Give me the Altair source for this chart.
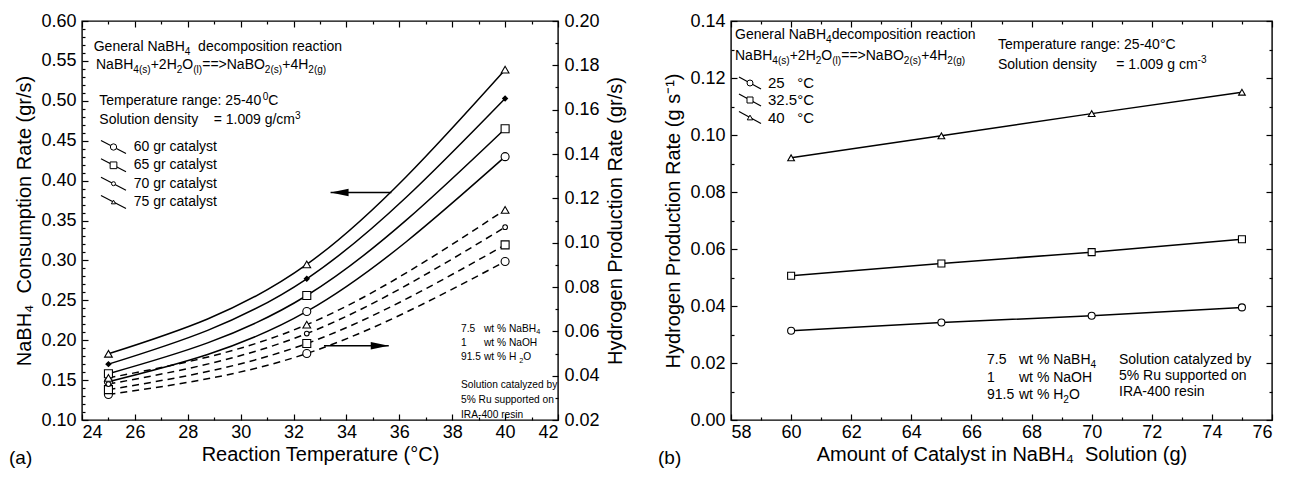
import altair as alt
import pandas as pd

# ---------------- data ----------------
# (a) rates versus reaction temperature
temperature_c = [25, 32.5, 40]
catalyst_labels = ["60 gr catalyst", "65 gr catalyst", "70 gr catalyst", "75 gr catalyst"]
nabh4_rate_60 = [0.148, 0.236, 0.430]
nabh4_rate_65 = [0.158, 0.256, 0.465]
nabh4_rate_70 = [0.170, 0.277, 0.503]
nabh4_rate_75 = [0.183, 0.295, 0.539]
h2_rate_60 = [0.0315, 0.0500, 0.0915]
h2_rate_65 = [0.0337, 0.0545, 0.0990]
h2_rate_70 = [0.0362, 0.0590, 0.1070]
h2_rate_75 = [0.0390, 0.0630, 0.1148]

# (b) hydrogen rate versus amount of catalyst
catalyst_g = [60, 65, 70, 75]
temp_labels = ["25\u00a0\u00a0\u00a0\u00b0C", "32.5\u00b0C", "40\u00a0\u00a0\u00a0\u00b0C"]
h2_25c = [0.0313, 0.0342, 0.0366, 0.0395]
h2_32c = [0.0506, 0.0549, 0.0589, 0.0634]
h2_40c = [0.0920, 0.0997, 0.1075, 0.1150]

# tick labels
left_x_ticks = [24, 26, 28, 30, 32, 34, 36, 38, 40, 42]
left_x_minor = [25, 27, 29, 31, 33, 35, 37, 39, 41]
left_y_ticks = [0.10, 0.15, 0.20, 0.25, 0.30, 0.35, 0.40, 0.45, 0.50, 0.55, 0.60]
left_y_minor = [round(0.10 + 0.01 * i, 2) for i in range(51) if i % 5 != 0]
left_y2_ticks = [0.02, 0.04, 0.06, 0.08, 0.10, 0.12, 0.14, 0.16, 0.18, 0.20]
left_y2_minor = [0.03, 0.05, 0.07, 0.09, 0.11, 0.13, 0.15, 0.17, 0.19]
right_x_ticks = [58, 60, 62, 64, 66, 68, 70, 72, 74, 76]
right_x_minor = [59, 61, 63, 65, 67, 69, 71, 73, 75]
right_y_ticks = [0.00, 0.02, 0.04, 0.06, 0.08, 0.10, 0.12, 0.14]
right_y_minor = [0.01, 0.03, 0.05, 0.07, 0.09, 0.11, 0.13]

# ---------------- helpers ----------------
FONT = "Liberation Sans"
NB = "\u00a0"

AW = {' ': 278, NB: 278, '!': 278, '%': 889, '(': 333, ')': 333, '+': 584, ',': 278,
      '-': 333, '.': 278, '/': 278, ':': 278, '=': 584, '>': 584, '\u00b0': 400,
      'A': 667, 'B': 667, 'C': 722, 'D': 722, 'E': 667, 'F': 611, 'G': 778, 'H': 722,
      'I': 278, 'J': 500, 'K': 667, 'L': 556, 'M': 833, 'N': 722, 'O': 778, 'P': 667,
      'Q': 778, 'R': 722, 'S': 667, 'T': 611, 'U': 722, 'V': 667, 'W': 944, 'X': 667,
      'Y': 667, 'Z': 611, 'a': 556, 'b': 556, 'c': 500, 'd': 556, 'e': 556, 'f': 278,
      'g': 556, 'h': 556, 'i': 222, 'j': 222, 'k': 500, 'l': 222, 'm': 833, 'n': 556,
      'o': 556, 'p': 556, 'q': 556, 'r': 333, 's': 500, 't': 278, 'u': 556, 'v': 500,
      'w': 722, 'x': 500, 'y': 500, 'z': 500}


def tw(s, fs):
    return sum(AW.get(c, 556) for c in s) / 1000.0 * fs


ONE = pd.DataFrame({"k": [0]})


def rich(x, yc, parts, fs=14, color="black"):
    base = yc + 0.36 * fs
    cx = x
    out = []
    for txt, kind in parts:
        if kind == "n":
            size, dy = fs, 0.0
        elif kind == "b":
            size, dy = fs * 0.72, fs * 0.25
        else:
            size, dy = fs * 0.72, -fs * 0.40
        lead = len(txt) - len(txt.lstrip(" "))
        cx += tw(" " * lead, size)
        body = txt.lstrip(" ").replace(" ", NB)
        out.append(
            alt.Chart(ONE).mark_text(text=body, align="left", baseline="alphabetic",
                                     font=FONT, fontSize=size, color=color)
            .encode(x=alt.value(cx), y=alt.value(base + dy))
        )
        cx += tw(body, size)
    return out


def tick_axis(orient, vals, size):
    return alt.Axis(orient=orient, values=vals, tickSize=size, offset=-size, ticks=True,
                    labels=False, domain=False, title=None, grid=False, minExtent=0,
                    tickColor="black", tickWidth=1.2)


def tick_layer(xdom, xvals, xorient, ydom, yvals, yorient, size):
    d = pd.DataFrame({"tx": [xdom[0]], "ty": [ydom[0]]})
    return alt.Chart(d).mark_point(opacity=0).encode(
        x=alt.X("tx:Q", scale=alt.Scale(domain=xdom, nice=False, zero=False),
                axis=tick_axis(xorient, xvals, size)),
        y=alt.Y("ty:Q", scale=alt.Scale(domain=ydom, nice=False, zero=False),
                axis=tick_axis(yorient, yvals, size)),
    )


def legend_entry(x0, x1, xm, xt, yc, half, shape, size, fill, label, fs):
    rule = alt.Chart(ONE).mark_rule(color="black", strokeWidth=1.2).encode(
        x=alt.value(x0), x2=alt.value(x1), y=alt.value(yc - half), y2=alt.value(yc + half))
    pt = alt.Chart(ONE).mark_point(shape=shape, size=size, filled=True, fill=fill,
                                   stroke="black", strokeWidth=1, opacity=1).encode(
        x=alt.value(xm), y=alt.value(yc))
    txt = alt.Chart(ONE).mark_text(text=label, align="left", baseline="middle",
                                   font=FONT, fontSize=fs, color="black").encode(
        x=alt.value(xt), y=alt.value(yc))
    return [rule, pt, txt]


FORMULA = [("NaBH", "n"), ("4(s)", "b"), ("+2H", "n"), ("2", "b"), ("O", "n"), ("(l)", "b"),
           ("==>NaBO", "n"), ("2(s)", "b"), ("+4H", "n"), ("2(g)", "b")]

# ---------------- panel (a) ----------------
W_L, H = 476, 399
XD_L = [24, 42]
YD_L = [0.10, 0.60]
YD_R = [0.02, 0.20]
XS_L = alt.Scale(domain=XD_L, nice=False, zero=False)
LS = alt.Scale(domain=YD_L, nice=False, zero=False)
RS = alt.Scale(domain=YD_R, nice=False, zero=False)

cons_series = [nabh4_rate_60, nabh4_rate_65, nabh4_rate_70, nabh4_rate_75]
h2_series = [h2_rate_60, h2_rate_65, h2_rate_70, h2_rate_75]
rows = []
for lab, cs, hs in zip(catalyst_labels, cons_series, h2_series):
    for t, c, h in zip(temperature_c, cs, hs):
        rows.append({"T": t, "level": lab, "cons": c, "h2": h})
df_a = pd.DataFrame(rows)

x_main_a = alt.X("T:Q", scale=XS_L, axis=alt.Axis(
    orient="bottom", values=left_x_ticks, format="d", ticks=False, tickSize=0, domain=False,
    labelPadding=3, title="Reaction Temperature (\u00b0C)", titlePadding=3))
x_none_a = alt.X("T:Q", scale=XS_L, axis=None)

solid = alt.Chart(df_a).mark_line(color="black", strokeWidth=1.5, interpolate="monotone").encode(
    x=x_main_a,
    y=alt.Y("cons:Q", scale=LS, axis=alt.Axis(
        orient="left", values=left_y_ticks, format=".2f", ticks=False, tickSize=0, domain=False,
        labelPadding=6, title="NaBH\u2084\u00a0 Consumption Rate (gr/s)", titlePadding=6)),
    detail="level:N")

dashed = alt.Chart(df_a).mark_line(color="black", strokeWidth=1.5, strokeDash=[7, 5],
                                   interpolate="monotone").encode(
    x=x_none_a,
    y=alt.Y("h2:Q", scale=RS, axis=alt.Axis(
        orient="right", values=left_y2_ticks, format=".2f", ticks=False, tickSize=0, domain=False,
        labelPadding=6, title="Hydrogen Production Rate (gr/s)", titlePadding=6,
        titleAngle=270, titleBaseline="top")),
    detail="level:N")

solid_style = [("circle", 64, "white"), ("square", 64, "white"), ("diamond", 24, "black"),
               ("triangle-up", 60, "white")]
dashed_style = [("circle", 64, "white"), ("square", 64, "white"), ("circle", 22, "white"),
                ("triangle-up", 60, "white")]

layers_a = [solid, dashed]
for lab, (shp, sz, fl) in zip(catalyst_labels, solid_style):
    layers_a.append(alt.Chart(df_a).transform_filter(alt.datum.level == lab).mark_point(
        shape=shp, size=sz, filled=True, fill=fl, stroke="black", strokeWidth=1.1, opacity=1).encode(
        x=x_none_a, y=alt.Y("cons:Q", scale=LS, axis=None)))
for lab, (shp, sz, fl) in zip(catalyst_labels, dashed_style):
    layers_a.append(alt.Chart(df_a).transform_filter(alt.datum.level == lab).mark_point(
        shape=shp, size=sz, filled=True, fill=fl, stroke="black", strokeWidth=1.1, opacity=1).encode(
        x=x_none_a, y=alt.Y("h2:Q", scale=RS, axis=None)))

# arrows
arr_l = pd.DataFrame({"x1": [35.7], "x2": [33.4], "y": [0.385]})
arr_r = pd.DataFrame({"x1": [33.15], "x2": [35.6], "y": [0.0535]})
layers_a.append(alt.Chart(arr_l).mark_rule(color="black", strokeWidth=1.4).encode(
    x=alt.X("x1:Q", scale=XS_L, axis=None), x2="x2:Q", y=alt.Y("y:Q", scale=LS, axis=None)))
layers_a.append(alt.Chart(arr_l).mark_point(shape="M0,0L2,-0.42L2,0.42Z", size=324, filled=True,
                                            color="black", opacity=1).encode(
    x=alt.X("x2:Q", scale=XS_L, axis=None), y=alt.Y("y:Q", scale=LS, axis=None)))
layers_a.append(alt.Chart(arr_r).mark_rule(color="black", strokeWidth=1.4).encode(
    x=alt.X("x1:Q", scale=XS_L, axis=None), x2="x2:Q", y=alt.Y("y:Q", scale=RS, axis=None)))
layers_a.append(alt.Chart(arr_r).mark_point(shape="M0,0L-2,-0.42L-2,0.42Z", size=324, filled=True,
                                            color="black", opacity=1).encode(
    x=alt.X("x2:Q", scale=XS_L, axis=None), y=alt.Y("y:Q", scale=RS, axis=None)))

# inward ticks
layers_a += [
    tick_layer(XD_L, left_x_ticks, "bottom", YD_L, left_y_ticks, "left", 6),
    tick_layer(XD_L, left_x_minor, "bottom", YD_L, left_y_minor, "left", 3),
    tick_layer(XD_L, left_x_ticks, "top", YD_R, left_y2_ticks, "right", 6),
    tick_layer(XD_L, left_x_minor, "top", YD_R, left_y2_minor, "right", 3),
]

# annotations
layers_a += rich(11.7, 25, [("General NaBH", "n"), ("4", "b"), ("  decomposition reaction", "n")])
layers_a += rich(14, 43, FORMULA)
layers_a += rich(17.3, 79.3, [("Temperature range: 25-40", "n"), ("0", "p"), ("C", "n")])
layers_a += rich(17.3, 98.3, [("Solution density    = 1.009 g/cm", "n"), ("3", "p")])
leg_a_style = [("circle", 40, "white"), ("square", 45, "white"), ("circle", 16, "white"),
               ("triangle-up", 18, "white")]
for lab, yc, (shp, sz, fl) in zip(catalyst_labels, [126, 144.3, 162.7, 181], leg_a_style):
    layers_a += legend_entry(19, 44, 31.5, 51.7, yc, 6.5, shp, sz, fl, lab, 14)

bx, sfs = 379, 10.2
for yc, num, parts in [(307, "7.5", [("wt % NaBH", "n"), ("4", "b")]),
                       (321.5, "1", [("wt % NaOH", "n")]),
                       (335.5, "91.5", [("wt % H ", "n"), ("2", "b"), ("O", "n")])]:
    layers_a += rich(bx, yc, [(num, "n")], fs=sfs)
    layers_a += rich(bx + 23, yc, parts, fs=sfs)
for yc, line in [(363, "Solution catalyzed by"), (378, "5% Ru supported on"), (393, "IRA-400 resin")]:
    layers_a += rich(bx, yc, [(line, "n")], fs=sfs)
layers_a += rich(-73, 436, [("(a)", "n")], fs=19)

panel_a = alt.layer(*layers_a).resolve_scale(y="independent").resolve_axis(
    x="independent", y="independent").properties(width=W_L, height=H)

# ---------------- panel (b) ----------------
W_R = 541
XD_R = [58, 76]
YD_B = [0.0, 0.14]
XS_R = alt.Scale(domain=XD_R, nice=False, zero=False)
YS_B = alt.Scale(domain=YD_B, nice=False, zero=False)

rows_b = []
for lab, vals in zip(temp_labels, [h2_25c, h2_32c, h2_40c]):
    for g, v in zip(catalyst_g, vals):
        rows_b.append({"g": g, "temp": lab, "h2": v})
df_b = pd.DataFrame(rows_b)

lines_b = alt.Chart(df_b).mark_line(color="black", strokeWidth=1.5).encode(
    x=alt.X("g:Q", scale=XS_R, axis=alt.Axis(
        orient="bottom", values=right_x_ticks, format="d", ticks=False, tickSize=0, domain=False,
        labelPadding=3, title="Amount of Catalyst in NaBH\u2084\u00a0 Solution (g)", titlePadding=3)),
    y=alt.Y("h2:Q", scale=YS_B, axis=alt.Axis(
        orient="left", values=right_y_ticks, format=".2f", ticks=False, tickSize=0, domain=False,
        labelPadding=6, title="Hydrogen Production Rate (g s\u207b\u00b9)", titlePadding=6)),
    detail="temp:N")

layers_b = [lines_b]
b_style = [("circle", 49, "white"), ("square", 49, "white"), ("triangle-up", 45, "white")]
for lab, (shp, sz, fl) in zip(temp_labels, b_style):
    layers_b.append(alt.Chart(df_b).transform_filter(alt.datum.temp == lab).mark_point(
        shape=shp, size=sz, filled=True, fill=fl, stroke="black", strokeWidth=1.1, opacity=1).encode(
        x=alt.X("g:Q", scale=XS_R, axis=None), y=alt.Y("h2:Q", scale=YS_B, axis=None)))

layers_b += [
    tick_layer(XD_R, right_x_ticks, "bottom", YD_B, right_y_ticks, "left", 6),
    tick_layer(XD_R, right_x_minor, "bottom", YD_B, right_y_minor, "left", 3),
    tick_layer(XD_R, right_x_ticks, "top", YD_B, right_y_ticks, "right", 6),
    tick_layer(XD_R, right_x_minor, "top", YD_B, right_y_minor, "right", 3),
]

layers_b += rich(4, 13, [("General NaBH", "n"), ("4", "b"), ("decomposition reaction", "n")])
layers_b += rich(4, 34, FORMULA)
layers_b += rich(267, 23, [("Temperature range: 25-40\u00b0C", "n")])
layers_b += rich(267, 43, [("Solution density     = 1.009 g cm", "n"), ("-3", "p")])
leg_b_style = [("circle", 36, "white"), ("square", 36, "white"), ("triangle-up", 30, "white")]
for lab, yc, (shp, sz, fl) in zip(temp_labels, [62, 79, 96.5], leg_b_style):
    layers_b += legend_entry(8, 30, 19, 37, yc, 6, shp, sz, fl, lab, 15)

for yc, num, parts in [(338, "7.5", [("wt % NaBH", "n"), ("4", "b")]),
                       (356, "1", [("wt % NaOH", "n")]),
                       (373, "91.5", [("wt % H", "n"), ("2", "b"), ("O", "n")])]:
    layers_b += rich(256, yc, [(num, "n")], fs=14)
    layers_b += rich(288, yc, parts, fs=14)
for yc, line in [(338, "Solution catalyzed by"), (354, "5% Ru supported on"), (370, "IRA-400 resin")]:
    layers_b += rich(388, yc, [(line, "n")], fs=14)
layers_b += rich(-73, 436, [("(b)", "n")], fs=19)

panel_b = alt.layer(*layers_b).resolve_axis(x="independent", y="independent").properties(
    width=W_R, height=H)

chart = alt.hconcat(panel_a, panel_b, spacing=31).properties(
    padding={"left": 0, "top": 3, "right": 5, "bottom": 0}
).configure_view(stroke="black", strokeWidth=1.4).configure_axis(
    grid=False, labelFont=FONT, titleFont=FONT, labelFontSize=18, titleFontSize=20,
    titleFontWeight="normal", labelColor="black", titleColor="black", tickColor="black")

chart.save("out.html", embed_options={"renderer": "svg", "actions": False})
